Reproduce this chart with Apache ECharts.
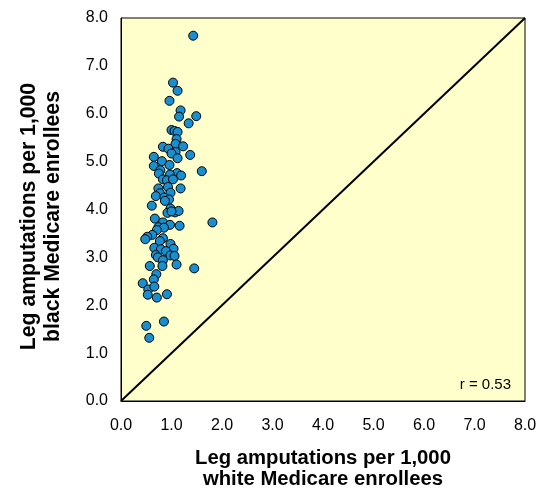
<!DOCTYPE html>
<html>
<head>
<meta charset="utf-8">
<script src="https://cdn.jsdelivr.net/npm/echarts@6/dist/echarts.min.js"></script>
<style>
  html, body { margin: 0; padding: 0; background: #fff; }
  #chart { width: 552px; height: 489px; }
</style>
</head>
<body>
<div id="chart"></div>
<script>
// white rate (x) vs black rate (y), per 1,000 enrollees
const whiteRates = [
  1.43, 1.03, 1.12, 0.96, 1.18, 1.15, 1.49, 1.34, 1.00, 1.06, 1.12, 1.10, 1.08, 0.83, 1.23,
  0.94, 1.08, 1.00, 0.65, 1.37, 1.12, 0.81, 0.65, 0.96, 1.60, 0.78, 0.75, 1.11, 1.19, 0.97,
  0.83, 0.91, 1.03, 0.93, 1.18, 0.74, 0.98, 0.77, 0.69, 0.86, 0.95, 0.87, 0.61, 0.98, 0.92,
  1.07, 1.14, 1.00, 1.81, 0.67, 0.83, 0.97, 1.16, 0.74, 0.85, 0.71, 0.62, 0.52, 0.48, 0.83,
  0.77, 0.98, 0.66, 1.04, 0.79, 0.89, 0.69, 0.98, 0.73, 1.06, 0.83, 1.10, 0.57, 0.82, 1.45,
  0.70, 0.65, 0.43, 0.54, 0.66, 0.53, 0.71, 0.91, 0.50, 0.85, 0.56
]
const blackRates = [
  7.63, 6.65, 6.48, 6.27, 6.07, 5.94, 5.95, 5.80, 5.66, 5.64, 5.62, 5.47, 5.37, 5.31, 5.32,
  5.27, 5.20, 5.17, 5.10, 5.14, 5.07, 5.01, 4.91, 4.93, 4.80, 4.82, 4.75, 4.76, 4.71, 4.73,
  4.63, 4.61, 4.63, 4.47, 4.44, 4.44, 4.35, 4.34, 4.28, 4.25, 4.21, 4.18, 4.08, 4.02, 3.93,
  3.94, 3.97, 3.96, 3.73, 3.81, 3.73, 3.68, 3.66, 3.63, 3.62, 3.57, 3.47, 3.43, 3.38, 3.40,
  3.34, 3.28, 3.20, 3.18, 3.17, 3.13, 3.05, 3.04, 3.00, 3.03, 2.94, 2.85, 2.82, 2.82, 2.77,
  2.65, 2.54, 2.46, 2.33, 2.39, 2.22, 2.16, 2.23, 1.57, 1.66, 1.32
]
const equalityLine = [[0, 0], [8, 8]]
const correlationText = 'r = 0.53'

const chart = echarts.init(document.getElementById('chart'))
const font = 'Liberation Sans, Arial, sans-serif'

chart.setOption({
  animation: false,
  grid: {
    left: 121, top: 18, width: 404, height: 383,
    outerBoundsMode: 'none',
    show: true, backgroundColor: '#ffffcc', borderColor: '#000', borderWidth: 1
  },
  xAxis: {
    type: 'value', min: 0, max: 8, interval: 1,
    name: 'Leg amputations per 1,000\nwhite Medicare enrollees',
    nameLocation: 'middle', nameGap: 47,
    nameTextStyle: { fontFamily: font, fontWeight: 'bold', fontSize: 20.3, color: '#000', lineHeight: 21 },
    axisLine: { lineStyle: { color: '#000' } },
    axisTick: { show: false },
    splitLine: { show: false },
    axisLabel: { fontFamily: font, fontSize: 16, color: '#000', margin: 17, formatter: v => v.toFixed(1) }
  },
  yAxis: {
    type: 'value', min: 0, max: 8, interval: 1,
    name: 'Leg amputations per 1,000\nblack Medicare enrollees',
    nameLocation: 'middle', nameGap: 56,
    nameTextStyle: { fontFamily: font, fontWeight: 'bold', fontSize: 21.2, color: '#000', lineHeight: 24, padding: [0, 14, 0, 0] },
    axisLine: { lineStyle: { color: '#000' } },
    axisTick: { show: false },
    splitLine: { show: false },
    axisLabel: { fontFamily: font, fontSize: 16, color: '#000', margin: 13, formatter: v => v.toFixed(1) }
  },
  series: [
    {
      type: 'line',
      data: equalityLine,
      symbol: 'none',
      lineStyle: { color: '#000', width: 2 },
      silent: true
    },
    {
      type: 'scatter',
      data: whiteRates.map((x, i) => [x, blackRates[i]]),
      symbolSize: 9,
      itemStyle: { color: '#1a8fd0', borderColor: '#000', borderWidth: 1, opacity: 1 }
    }
  ],
  graphic: [
    {
      type: 'text', right: 41, top: 377,
      style: { text: correlationText, fontFamily: font, fontSize: 15, fill: '#000' }
    }
  ]
})
</script>
</body>
</html>
